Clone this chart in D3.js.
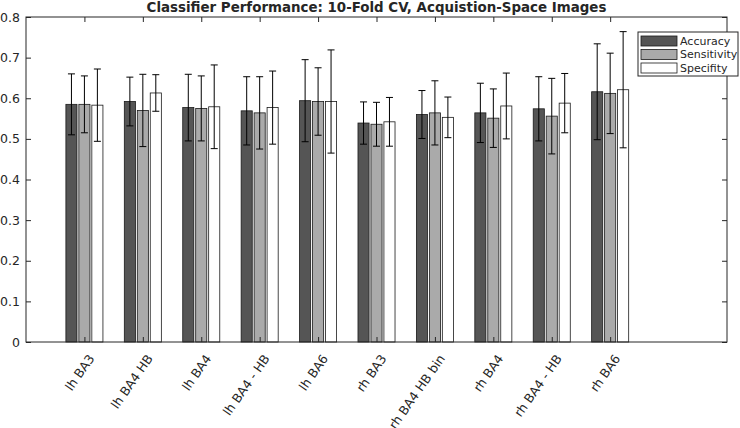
<!DOCTYPE html>
<html>
<head>
<meta charset="utf-8">
<script src="https://cdn.jsdelivr.net/npm/d3@7"></script>
<style>
  body { margin: 0; background: #fff; }
  text { font-family: "DejaVu Sans", sans-serif; fill: #262626; }
</style>
</head>
<body>
<script>
// region labels along the x axis
const regions = ["lh BA3", "lh BA4 HB", "lh BA4", "lh BA4 - HB", "lh BA6",
                 "rh BA3", "rh BA4 HB bin", "rh BA4", "rh BA4 - HB", "rh BA6"];
const seriesNames = ["Accuracy", "Sensitivity", "Specifity"];

// mean values (bar heights)
const accuracy    = [0.585, 0.592, 0.577, 0.569, 0.594, 0.539, 0.560, 0.564, 0.574, 0.616];
const sensitivity = [0.585, 0.570, 0.575, 0.564, 0.592, 0.536, 0.564, 0.551, 0.556, 0.612];
const specifity   = [0.583, 0.613, 0.579, 0.577, 0.592, 0.542, 0.553, 0.581, 0.588, 0.621];

// standard deviations (error bar half-lengths)
const accuracySd    = [0.075, 0.060, 0.082, 0.084, 0.101, 0.052, 0.059, 0.073, 0.079, 0.118];
const sensitivitySd = [0.070, 0.089, 0.080, 0.089, 0.083, 0.054, 0.079, 0.072, 0.093, 0.099];
const specifitySd   = [0.089, 0.045, 0.103, 0.090, 0.127, 0.060, 0.050, 0.081, 0.073, 0.143];

const yTicks = [0, 0.1, 0.2, 0.3, 0.4, 0.5, 0.6, 0.7, 0.8];

const width = 740;
const height = 428;
const margin = { top: 17, right: 13, bottom: 86, left: 26 };
const colors = ["#555555", "#aaaaaa", "#ffffff"];

const means = [accuracy, sensitivity, specifity];
const sds = [accuracySd, sensitivitySd, specifitySd];

// flat table for the bars
const data = [];
regions.forEach((r, i) => {
    seriesNames.forEach((s, j) => {
        data.push({ region: r, idx: i + 1, series: s, value: means[j][i], sd: sds[j][i] });
    });
});

const svg = d3.select("body").append("svg")
    .attr("width", width)
    .attr("height", height);

const x = d3.scaleLinear()
    .domain([0, 12])
    .range([margin.left, width - margin.right]);

const y = d3.scaleLinear()
    .domain([0, 0.8])
    .range([height - margin.bottom, margin.top]);

// offset of each series inside a group (in x units)
const offset = d3.scalePoint()
    .domain(seriesNames)
    .range([-0.222, 0.222]);

const color = d3.scaleOrdinal().domain(seriesNames).range(colors);
const barW = x(0.19) - x(0);
const capW = x(0.12) - x(0);

// bars
svg.append("g")
    .selectAll("rect")
    .data(data)
    .join("rect")
    .attr("x", d => x(d.idx + offset(d.series)) - barW / 2)
    .attr("y", d => y(d.value))
    .attr("width", barW)
    .attr("height", d => y(0) - y(d.value))
    .attr("fill", d => color(d.series))
    .attr("stroke", "#1a1a1a")
    .attr("stroke-width", 0.8);

// axes box with inward ticks
const x0 = margin.left, x1 = width - margin.right;
const y0 = height - margin.bottom, y1 = margin.top;

svg.append("g")
    .attr("transform", `translate(0,${y0})`)
    .call(d3.axisBottom(x).tickValues(d3.range(1, 11)).tickSize(-5).tickFormat(""))
    .call(g => g.select(".domain").remove());
svg.append("g")
    .attr("transform", `translate(0,${y1})`)
    .call(d3.axisTop(x).tickValues(d3.range(1, 11)).tickSize(-5).tickFormat(""))
    .call(g => g.select(".domain").remove());
svg.append("g")
    .attr("transform", `translate(${x0},0)`)
    .call(d3.axisLeft(y).tickValues(yTicks).tickSize(-5).tickPadding(6)
        .tickFormat(d => d === 0 ? "0" : d3.format(".1f")(d)))
    .call(g => g.select(".domain").remove())
    .call(g => g.selectAll("text").attr("font-size", 12.5).attr("fill", "#262626")
        .attr("font-family", "DejaVu Sans, sans-serif"));
svg.append("g")
    .attr("transform", `translate(${x1},0)`)
    .call(d3.axisRight(y).tickValues(yTicks).tickSize(-5).tickFormat(""))
    .call(g => g.select(".domain").remove());

svg.selectAll(".tick line").attr("stroke", "#262626");

svg.append("rect")
    .attr("x", x0).attr("y", y1)
    .attr("width", x1 - x0).attr("height", y0 - y1)
    .attr("fill", "none")
    .attr("stroke", "#262626")
    .attr("stroke-width", 1);

// error bars
const err = svg.append("g")
    .attr("stroke", "#000")
    .attr("stroke-width", 1)
    .selectAll("g")
    .data(data)
    .join("g");
err.append("line")
    .attr("x1", d => x(d.idx + offset(d.series)))
    .attr("x2", d => x(d.idx + offset(d.series)))
    .attr("y1", d => y(d.value - d.sd))
    .attr("y2", d => y(d.value + d.sd));
err.append("line")
    .attr("x1", d => x(d.idx + offset(d.series)) - capW / 2)
    .attr("x2", d => x(d.idx + offset(d.series)) + capW / 2)
    .attr("y1", d => y(d.value + d.sd))
    .attr("y2", d => y(d.value + d.sd));
err.append("line")
    .attr("x1", d => x(d.idx + offset(d.series)) - capW / 2)
    .attr("x2", d => x(d.idx + offset(d.series)) + capW / 2)
    .attr("y1", d => y(d.value - d.sd))
    .attr("y2", d => y(d.value - d.sd));

// rotated category labels
svg.append("g")
    .selectAll("text")
    .data(regions)
    .join("text")
    .attr("transform", (d, i) => `translate(${x(i + 1) + 7},${y0 + 14}) rotate(-55)`)
    .attr("text-anchor", "end")
    .attr("dy", "0.35em")
    .attr("font-size", 12.5)
    .text(d => d);

// title
svg.append("text")
    .attr("x", (x0 + x1) / 2)
    .attr("y", 12)
    .attr("text-anchor", "middle")
    .attr("font-size", 13.4)
    .attr("font-weight", "bold")
    .attr("fill", "#000")
    .text("Classifier Performance: 10-Fold CV, Acquistion-Space Images");

// legend
const legend = svg.append("g").attr("transform", "translate(638,32)");
legend.append("rect")
    .attr("width", 100).attr("height", 44)
    .attr("fill", "#fff")
    .attr("stroke", "#262626");
const items = legend.selectAll("g")
    .data(seriesNames)
    .join("g")
    .attr("transform", (d, i) => `translate(3,${4 + i * 13.5})`);
items.append("rect")
    .attr("width", 36).attr("height", 10)
    .attr("fill", d => color(d))
    .attr("stroke", "#1a1a1a")
    .attr("stroke-width", 0.8);
items.append("text")
    .attr("x", 39).attr("y", 5)
    .attr("dy", "0.35em")
    .attr("font-size", 11)
    .text(d => d);
</script>
</body>
</html>
